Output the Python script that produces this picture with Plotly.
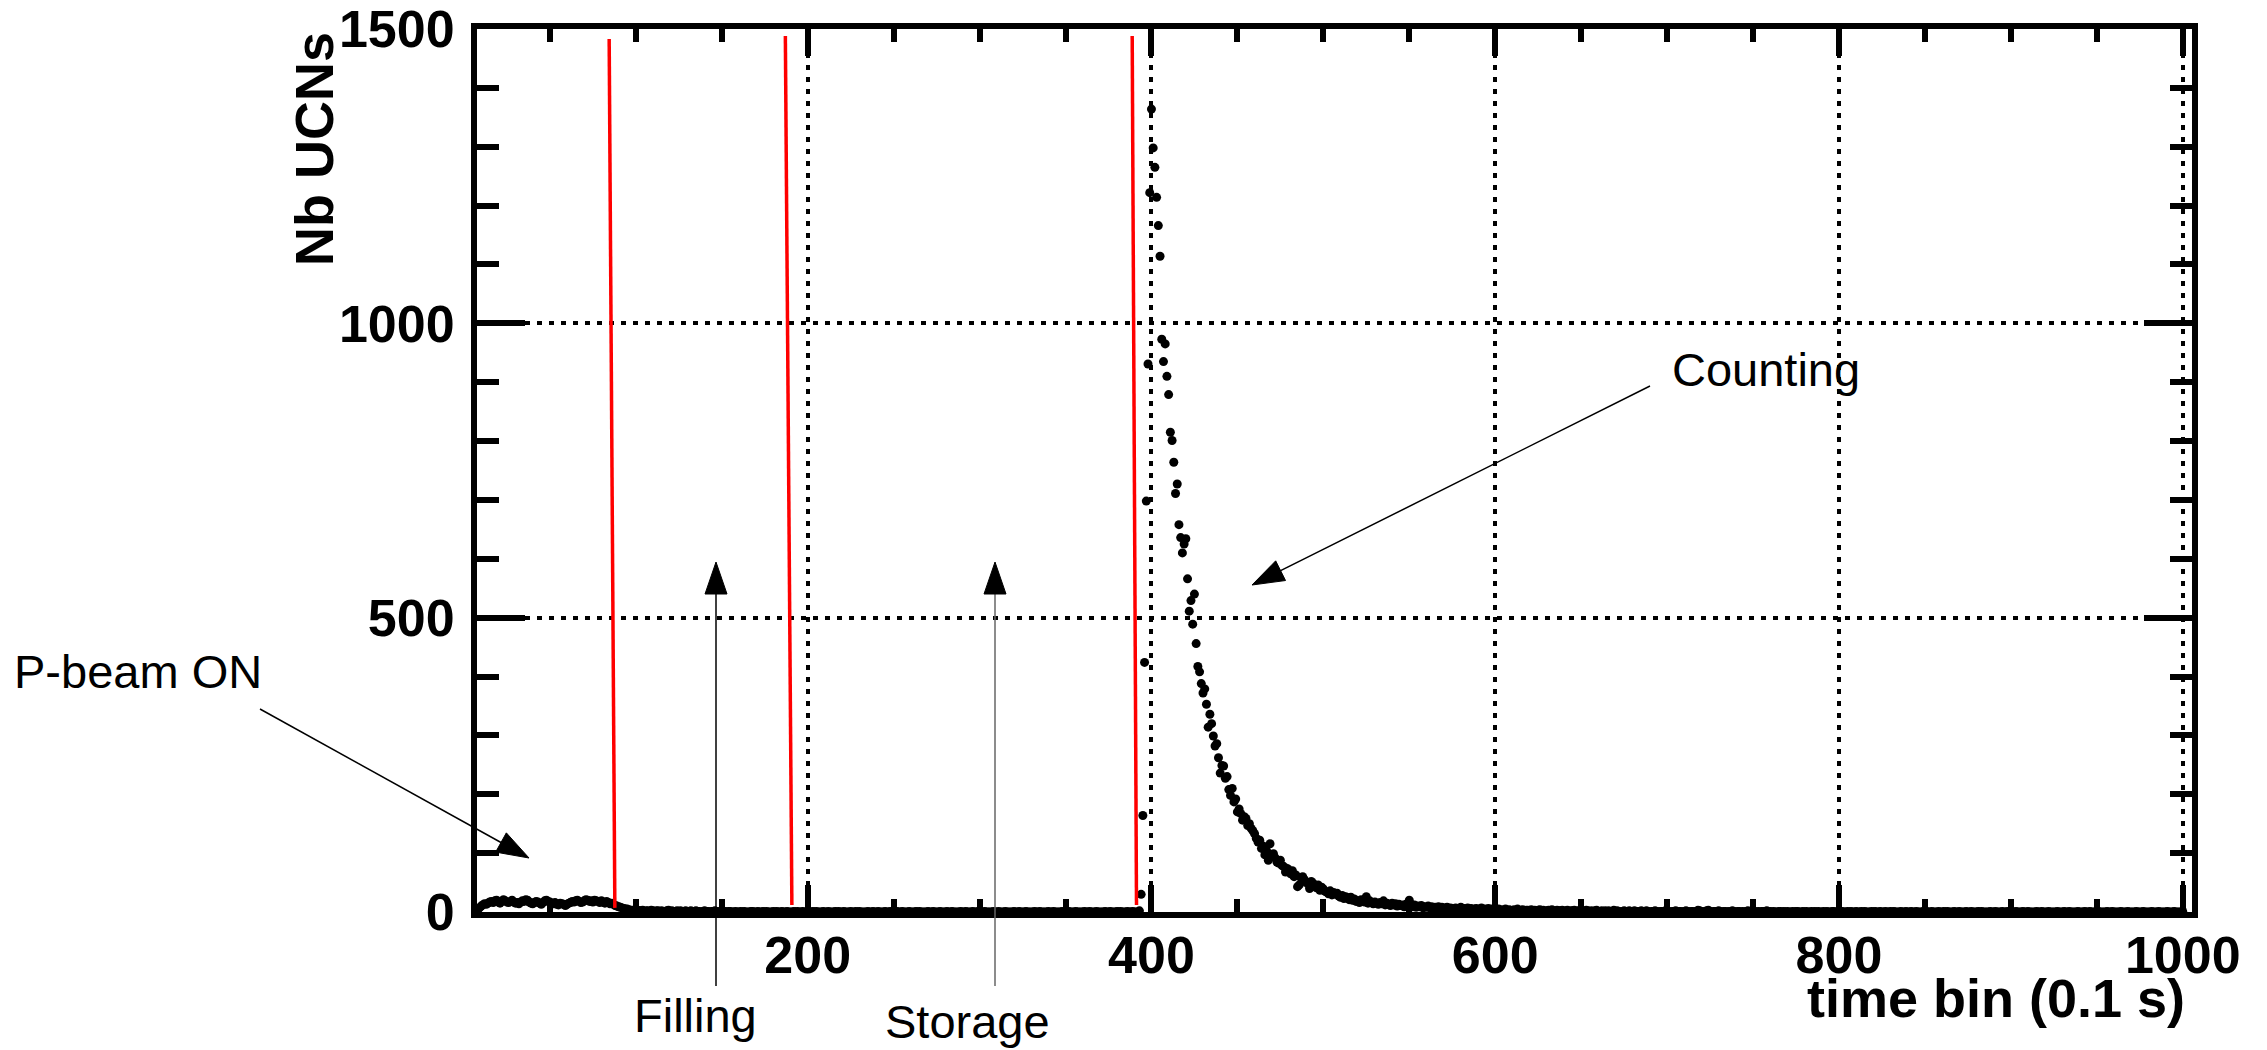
import math
import plotly.graph_objects as go

# ---------------- data ----------------
# counts per time bin; each segment starts at its own bin number
BEAM_START = 8
beam_counts = [4, 7, 10, 12, 14, 13, 15, 17,
               18, 16, 19, 20, 17, 15, 18, 21, 19, 17, 16, 18, 20, 17, 15,
               16, 14, 17, 19, 18, 21, 20, 17, 15, 14, 16, 18, 17, 15, 13,
               16, 19, 20, 18, 17, 15, 14, 16, 13, 12, 15, 14, 13, 11, 13,
               15, 16, 18, 17, 19, 20, 18, 16, 17, 19, 21, 20, 18, 19, 17,
               20, 19, 18, 16, 19, 17, 15, 18, 16, 14, 15, 13,
               11, 10, 9, 8, 7, 6, 5, 5, 4, 3, 3, 2, 3]

LOW_START = 101
low_counts = [3, 2, 2, 3, 1, 2, 2, 1, 3, 2, 1, 2, 2, 1, 2, 1, 1, 2, 3, 1, 2, 1, 1, 2,
              1, 2, 1, 1, 2, 1, 0, 2, 1, 1, 2, 1, 1, 0, 1, 2, 1, 1, 0, 1, 1, 2, 1]

FLAT_START = 148
flat_counts = [0, 1, 0, 0, 1, 0, 1, 1, 0, 0, 1, 0, 0, 1, 0, 1, 0, 0, 0, 1, 1, 0, 0, 1, 0,
               0, 1, 0, 1, 0, 0, 0, 1, 0, 1, 0, 0, 1, 0, 0, 1, 0, 0, 0, 1, 0, 1, 0, 0, 1,
               0, 0, 1, 0, 0, 1, 0, 1, 0, 0, 0, 1, 0, 0, 1, 0, 0, 0, 1, 0, 1, 0, 0, 1, 0,
               0, 0, 1, 0, 0, 1, 0, 1, 0, 0, 0, 0, 1, 0, 0, 1, 0, 0, 1, 0, 0, 0, 1, 0, 0,
               1, 0, 0, 0, 1, 0, 0, 1, 0, 0, 0, 1, 0, 0, 0, 1, 0, 1, 0, 0, 0, 0, 1, 0, 0,
               1, 0, 0, 0, 1, 0, 0, 0, 1, 0, 0, 1, 0, 0, 0, 0, 1, 0, 0, 1, 0, 0, 0, 1, 0,
               0, 1, 0, 0, 0, 1, 0, 0, 0, 0, 1, 0, 0, 1, 0, 0, 0, 1, 0, 0, 0, 0, 1, 0, 0,
               1, 0, 0, 0, 1, 0, 0, 0, 0, 1, 0, 0, 1, 0, 0, 0, 0, 1, 0, 0, 1, 0, 0, 0, 0,
               1, 0, 0, 0, 1, 0, 0, 0, 1, 0, 0, 0, 0, 1, 0, 0, 1, 0, 0, 0, 1, 0, 0, 0, 0,
               1, 0, 0, 1, 0, 0, 0, 1, 0, 1, 0, 0, 0, 1, 0, 0, 1, 0, 0, 0]

DECAY_START = 393
decay_counts = [2, 30, 164, 424, 698, 931, 1222, 1364, 1298, 1265,
                1214, 1166, 1114, 973, 935, 965, 910, 879, 815, 801,
                764, 711, 727, 658, 636, 610, 625, 634, 566, 511,
                529, 489, 540, 456, 417, 408, 388, 372, 379, 353,
                314, 336, 320, 299, 282, 286, 262, 236, 249, 248,
                227, 230, 208, 198, 210, 187, 192, 170, 175, 167,
                156, 162, 159, 147, 150, 142, 138, 133, 125, 119,
                122, 108, 112, 97, 104, 88, 116, 97, 99, 92,
                85, 83, 88, 79, 77, 68, 74, 71, 65, 70,
                60, 63, 43, 46, 58, 60, 55, 51, 48, 40,
                52, 49, 44, 41, 46, 37, 42, 39, 35, 34,
                31, 36, 29, 33, 30, 32, 27, 25, 28, 23,
                26, 24, 21, 25, 20, 22, 18, 19, 16, 21,
                18, 17, 26, 15, 19, 16, 14, 17, 15, 13,
                16, 14, 19, 12, 15, 13, 11, 15, 12, 14,
                10, 13, 11, 12, 9, 13, 10, 20, 11, 9,
                12, 8, 10, 9, 11, 7, 9, 8]

TAIL_A_START = 561
tail_a_counts = [10, 7, 9, 6, 8, 7, 9, 5, 8, 6, 7, 8, 5, 7, 6, 4, 7, 5, 6, 8,
                 5, 6, 4, 7, 5, 6, 3, 5, 6, 4, 5, 7, 4, 5, 3, 6, 4, 5, 4, 3]
TAIL_B_START = 601
tail_b_counts = [4, 5, 3, 4, 2, 5, 3, 4, 3, 2, 4, 3, 5, 2, 3, 4, 2, 3, 3, 2, 4, 1, 3, 2, 3,
                 4, 2, 3, 1, 2, 3, 2, 4, 2, 1, 3, 2, 2, 3, 1, 2, 3, 1, 2, 2, 3, 1, 2, 2, 1]
TAIL_C_START = 651
tail_c_counts = [2, 1, 3, 2, 1, 2, 1, 2, 3, 1, 1, 2, 1, 2, 0, 2, 1, 1, 3, 1, 2, 1, 0, 1, 2,
                 1, 1, 2, 0, 1, 2, 1, 1, 0, 2, 1, 1, 2, 1, 0, 1, 1, 2, 1, 0, 1, 1, 0, 2, 1]
TAIL_D_START = 701
tail_d_counts = [1, 0, 1, 1, 2, 0, 1, 1, 0, 1, 2, 1, 0, 1, 1, 0, 1, 3, 2, 1, 0, 1, 2, 3, 1,
                 0, 1, 1, 0, 2, 1, 0, 1, 1, 0, 1, 0, 2, 1, 0, 1, 1, 0, 1, 0, 1, 2, 0, 1, 0,
                 1, 0, 1, 0, 1, 1, 0, 2, 0, 1, 0, 1, 0, 0, 1, 1, 0, 1, 0, 1, 0, 0, 1, 0, 1,
                 1, 0, 0, 1, 0, 1, 0, 0, 1, 0, 1, 0, 1, 0, 0, 1, 0, 1, 0, 0, 1, 1, 0, 0, 1]
TAIL_E_START = 801
tail_e_counts = [0, 1, 0, 0, 1, 0, 1, 0, 0, 1, 0, 0, 1, 0, 1, 0, 0, 0, 1, 0, 1, 0, 0, 1, 0,
                 0, 1, 0, 0, 1, 0, 1, 0, 0, 0, 1, 0, 0, 1, 0, 0, 1, 0, 0, 1, 0, 0, 0, 1, 0,
                 1, 0, 0, 1, 0, 0, 0, 1, 0, 0, 1, 0, 1, 0, 0, 0, 1, 0, 0, 1, 0, 0, 0, 1, 0,
                 0, 1, 0, 0, 0, 1, 0, 1, 0, 0, 0, 0, 1, 0, 0, 1, 0, 0, 0, 1, 0, 0, 1, 0, 0]
TAIL_F_START = 901
tail_f_counts = [0, 0, 1, 0, 0, 0, 1, 0, 0, 1, 0, 0, 0, 0, 1, 0, 0, 1, 0, 0, 0, 1, 0, 0, 0,
                 0, 1, 0, 0, 0, 1, 0, 0, 1, 0, 0, 0, 0, 1, 0, 0, 0, 1, 0, 0, 1, 0, 0, 0, 0,
                 1, 0, 0, 0, 0, 1, 0, 0, 1, 0, 0, 0, 0, 1, 0, 0, 0, 1, 0, 0, 0, 0, 1, 0, 0,
                 0, 1, 0, 0, 0, 0, 1, 0, 0, 0, 1, 0, 0, 0, 0, 1, 0, 0, 0, 1, 0, 0, 0, 0, 1]

# valve / phase boundary lines (red), drawn top -> bottom
valve_x_top = [84.5, 187.0, 388.8]
valve_x_bottom = [87.8, 190.8, 391.3]
valve_y_top = [1483, 1488, 1488]
valve_y_bottom = [7, 12, 12]

# axes
X_RANGE = [7.6, 1005.4]
Y_RANGE = [0, 1500]
x_tick_vals = [200, 400, 600, 800, 1000]
x_tick_text = ["200", "400", "600", "800", "1000"]
y_tick_vals = [0, 500, 1000, 1500]
y_tick_text = ["0", "500", "1000", "1500"]
x_title = "time bin (0.1 s)"
y_title = "Nb UCNs"

# annotations: label, text-left px, text-middle px
labels = [
    ("P-beam ON", 12, 671),
    ("Filling", 632, 1016),
    ("Storage", 883, 1021),
    ("Counting", 1670, 369),
]
# arrows in pixel space: (tail, tip, color)
arrows = [
    ((260, 709), (529, 858), "black"),
    ((716, 986), (716, 562), "black"),
    ((995, 986), (995, 562), "#666666"),
    ((1650, 386), (1252, 585), "black"),
]

# ---------------- figure ----------------
W, H = 2267, 1050
L, R, T, B = 477, 2192, 29, 912
PW, PH = R - L, B - T


def paper(px, py):
    return (px - L) / PW, (B - py) / PH


segments = [(BEAM_START, beam_counts), (LOW_START, low_counts), (FLAT_START, flat_counts),
            (DECAY_START, decay_counts), (TAIL_A_START, tail_a_counts),
            (TAIL_B_START, tail_b_counts), (TAIL_C_START, tail_c_counts),
            (TAIL_D_START, tail_d_counts), (TAIL_E_START, tail_e_counts),
            (TAIL_F_START, tail_f_counts)]
bins, counts = [], []
for start, vals in segments:
    bins += list(range(start, start + len(vals)))
    counts += vals

fig = go.Figure()
fig.add_trace(go.Scatter(
    x=bins, y=counts, mode="markers",
    marker=dict(color="black", size=9, line=dict(width=0)),
    cliponaxis=False, showlegend=False, hoverinfo="skip"))

for xt, xb, yt, yb in zip(valve_x_top, valve_x_bottom, valve_y_top, valve_y_bottom):
    fig.add_trace(go.Scatter(x=[xt, xb], y=[yt, yb], mode="lines",
                             line=dict(color="#ff0000", width=3.5),
                             showlegend=False, hoverinfo="skip"))

FONT = "Liberation Sans, Arial, sans-serif"
axis_common = dict(
    showline=True, linecolor="black", linewidth=6, mirror="allticks",
    ticks="inside", tickcolor="black", tickwidth=6, automargin=False,
    showgrid=True, gridcolor="black", gridwidth=4, griddash="5px,7px",
    zeroline=False,
    tickfont=dict(family=FONT, size=52, color="black", weight="bold"),
)

fig.update_xaxes(range=X_RANGE, tickmode="array", tickvals=x_tick_vals, ticktext=x_tick_text,
                 ticklen=27, ticklabelstandoff=-7,
                 minor=dict(dtick=50, tick0=0, ticklen=13, tickwidth=6, tickcolor="black",
                            ticks="inside", showgrid=False),
                 **axis_common)
fig.update_yaxes(range=Y_RANGE, tickmode="array", tickvals=y_tick_vals, ticktext=y_tick_text,
                 ticklen=48, ticklabelstandoff=6,
                 minor=dict(dtick=100, tick0=0, ticklen=22, tickwidth=6, tickcolor="black",
                            ticks="inside", showgrid=False),
                 **axis_common)

annotations = []
# axis titles
xp, yp = paper(2187, 998)
annotations.append(dict(text=x_title, xref="paper", yref="paper", x=xp, y=yp,
                        xanchor="right", yanchor="middle", showarrow=False,
                        font=dict(family=FONT, size=54, color="black", weight="bold")))
xp, yp = paper(314, 30)
annotations.append(dict(text=y_title, xref="paper", yref="paper", x=xp, y=yp,
                        xanchor="center", yanchor="top", textangle=-90, showarrow=False,
                        font=dict(family=FONT, size=54, color="black", weight="bold")))
for txt, px, py in labels:
    xp, yp = paper(px, py)
    annotations.append(dict(text=txt, xref="paper", yref="paper", x=xp, y=yp,
                            xanchor="left", yanchor="middle", showarrow=False,
                            font=dict(family=FONT, size=47, color="black")))

shapes = []
HEAD_LEN, HEAD_W = 32, 22
for (tx, ty), (hx, hy), col in arrows:
    dx, dy = hx - tx, hy - ty
    n = math.hypot(dx, dy)
    ux, uy = dx / n, dy / n
    bx, by = hx - ux * HEAD_LEN, hy - uy * HEAD_LEN
    p1 = (bx - uy * HEAD_W / 2, by + ux * HEAD_W / 2)
    p2 = (bx + uy * HEAD_W / 2, by - ux * HEAD_W / 2)
    a0, b0 = paper(tx, ty)
    a1, b1 = paper(bx, by)
    shapes.append(dict(type="line", xref="paper", yref="paper", x0=a0, y0=b0, x1=a1, y1=b1,
                       line=dict(color=col, width=1.5)))
    pts = [paper(hx, hy), paper(*p1), paper(*p2)]
    path = "M {} {} L {} {} L {} {} Z".format(pts[0][0], pts[0][1], pts[1][0], pts[1][1],
                                              pts[2][0], pts[2][1])
    shapes.append(dict(type="path", xref="paper", yref="paper", path=path,
                       fillcolor="black", line=dict(color="black", width=1)))

fig.update_layout(
    width=W, height=H,
    margin=dict(l=L, r=W - R, t=T, b=H - B, pad=0, autoexpand=False),
    paper_bgcolor="white", plot_bgcolor="white",
    annotations=annotations, shapes=shapes,
    showlegend=False,
)

fig.write_html("out.html", config={"displayModeBar": False},
               post_script="document.body.style.margin='0';document.body.style.overflow='hidden';")
